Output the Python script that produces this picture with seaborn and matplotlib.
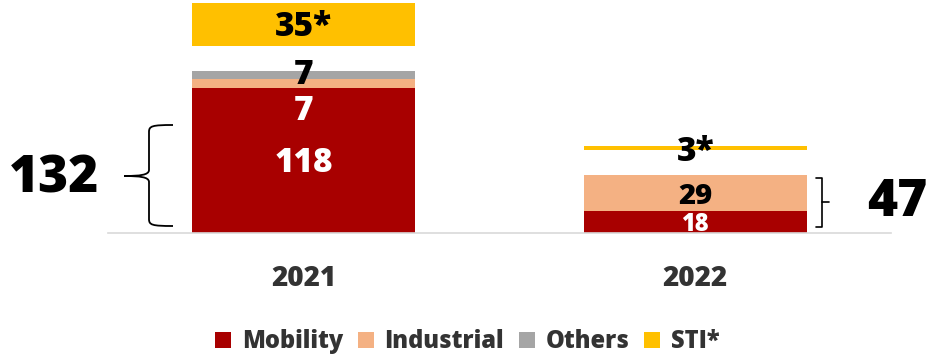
import matplotlib
matplotlib.use("Agg")
import matplotlib.pyplot as plt
from matplotlib.lines import Line2D
from matplotlib.path import Path
from matplotlib.patches import PathPatch
import numpy as np
import pandas as pd
import seaborn as sns

# ---- data ----
years = ["2021", "2022"]
mobility = [118, 18]
industrial = [7, 29]
others = [7, 0.5]
sti = [35, 3]
mobility_labels = ["118", "18"]
industrial_labels = ["7", "29"]
others_labels = ["7", ""]
sti_labels = ["35*", "3*"]
totals_core = ["132", "47"]
series_names = ["Mobility", "Industrial", "Others", "STI*"]

# ---- style ----
sns.set_theme(style="white")
plt.rcParams["font.family"] = ["Open Sans", "DejaVu Sans"]
colors = {"Mobility": "#A80000", "Industrial": "#F4B183",
          "Others": "#A5A5A5", "STI*": "#FFC000"}
GAP = 20  # visual gap between core stack and STI block
W, H = 927, 357
WT = "heavy"
YMAX = 191
PX_PER_UNIT = 1.23

fig = plt.figure(figsize=(W / 100, H / 100), dpi=100)
ax = fig.add_axes([108 / W, 124 / H, 783 / W, YMAX * PX_PER_UNIT / H])

df = pd.DataFrame({"year": years, "Mobility": mobility, "Industrial": industrial,
                   "Others": others, "STI*": sti})
core_top = np.array(mobility) + np.array(industrial) + np.array(others)
bottoms = {
    "Mobility": np.zeros(2),
    "Industrial": np.array(mobility, dtype=float),
    "Others": np.array(mobility, dtype=float) + np.array(industrial),
    "STI*": core_top + GAP,
}
for name in series_names:
    sns.barplot(data=df, x="year", y=name, bottom=bottoms[name], color=colors[name],
                width=0.57, errorbar=None, saturation=1, ax=ax, linewidth=0)

ax.set_xlim(-0.5, 1.5)
ax.set_ylim(0, YMAX)
for s in ["left", "right", "top"]:
    ax.spines[s].set_visible(False)
ax.spines["bottom"].set_color("#D9D9D9")
ax.spines["bottom"].set_linewidth(1.2)
ax.set_yticks([])
ax.set_xlabel("")
ax.set_ylabel("")
ax.tick_params(axis="x", length=0, pad=22)
for lab in ax.get_xticklabels():
    lab.set_fontsize(20)
    lab.set_fontweight(WT)
    lab.set_color("#333333")

fs = 24
for i in range(2):
    m, ind, o, s = mobility[i], industrial[i], others[i], sti[i]
    if i == 0:
        ax.text(i, m / 2 - 2, mobility_labels[i], ha="center", va="center",
                color="white", fontsize=fs, fontweight=WT)
        # thin segments: labels stacked above the mobility label
        ax.text(i, m - 19, industrial_labels[i], ha="center", va="center",
                color="white", fontsize=fs, fontweight=WT)
        ax.text(i, m + ind + o / 2, others_labels[i], ha="center", va="center",
                color="black", fontsize=fs, fontweight=WT)
        ax.text(i, core_top[i] + GAP + s / 2 - 2, sti_labels[i], ha="center", va="center",
                color="black", fontsize=fs, fontweight=WT)
    else:
        ax.text(i, m / 2, mobility_labels[i], ha="center", va="center_baseline",
                color="white", fontsize=17, fontweight=WT)
        ax.text(i, m + ind / 2, industrial_labels[i], ha="center", va="center_baseline",
                color="black", fontsize=21, fontweight=WT)
        ax.text(i, core_top[i] + GAP + s / 2 - 3, sti_labels[i], ha="center", va="center",
                color="black", fontsize=fs, fontweight=WT)

# legend
handles = [Line2D([0], [0], marker="s", linestyle="", markersize=11,
                  markerfacecolor=colors[n], markeredgewidth=0) for n in series_names]
leg = fig.legend(handles, series_names, loc="center", bbox_to_anchor=(0.502, 15 / H),
                 ncol=4, frameon=False, handletextpad=0.3, columnspacing=0.45,
                 handlelength=1.0, prop={"size": 17, "weight": WT})
for t in leg.get_texts():
    t.set_color("#333333")

# overlay for braces and totals (pixel coordinates)
ov = fig.add_axes([0, 0, 1, 1])
ov.set_xlim(0, W)
ov.set_ylim(H, 0)
ov.axis("off")
ov.patch.set_alpha(0)

# left curly brace
verts = [(173, 125), (152, 125), (149, 126), (149, 132),
         (149, 170),
         (149, 175), (140, 176), (124, 176),
         (140, 176), (149, 177), (149, 182),
         (149, 219),
         (149, 225), (152, 226), (173, 226)]
codes = [Path.MOVETO, Path.CURVE4, Path.CURVE4, Path.CURVE4,
         Path.LINETO,
         Path.CURVE4, Path.CURVE4, Path.CURVE4,
         Path.CURVE4, Path.CURVE4, Path.CURVE4,
         Path.LINETO,
         Path.CURVE4, Path.CURVE4, Path.CURVE4]
ov.add_patch(PathPatch(Path(verts, codes), fill=False, lw=1.3, color="black"))

# right bracket tied to the 2022 core stack
y_top = ax.transData.transform((1, core_top[1]))[1]
y_bot = ax.transData.transform((1, 0))[1]
y_top_px = H - y_top + 3
y_bot_px = H - y_bot - 6
y_mid = (y_top_px + y_bot_px) / 2
ov.plot([816, 822, 822, 816], [y_top_px, y_top_px, y_bot_px, y_bot_px],
        color="black", lw=1.2)
ov.plot([822, 829], [y_mid, y_mid], color="black", lw=1.2)

ov.text(54, 179, totals_core[0], ha="center", va="center", fontsize=37,
        fontweight=WT, color="black")
ov.text(897, y_mid, totals_core[1], ha="center", va="center", fontsize=37,
        fontweight=WT, color="black")

fig.savefig("out.png", dpi=100)
